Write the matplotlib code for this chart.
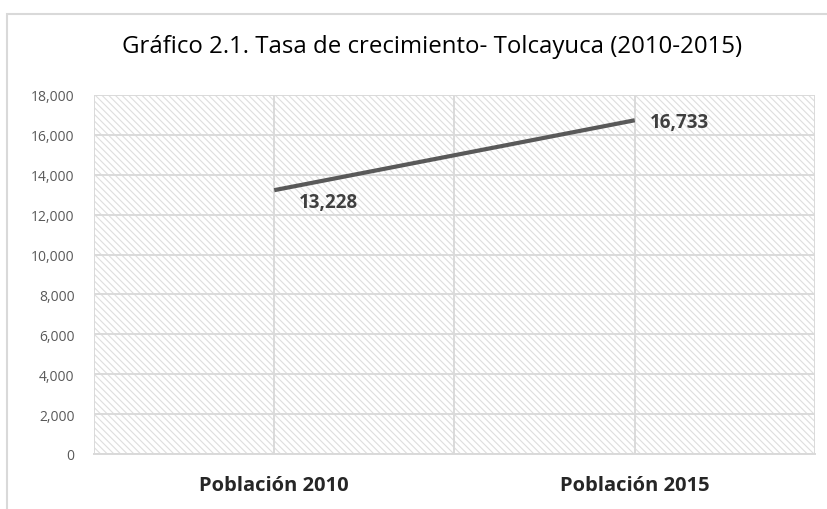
import matplotlib
matplotlib.use("Agg")
import matplotlib.pyplot as plt
from matplotlib.patches import Rectangle
from matplotlib.ticker import FuncFormatter

categories = ["Población 2010", "Población 2015"]
values = [13228, 16733]
yticks = [0, 2000, 4000, 6000, 8000, 10000, 12000, 14000, 16000, 18000]
title = "Gráfico 2.1. Tasa de crecimiento- Tolcayuca (2010-2015)"

fam = ["Open Sans", "DejaVu Sans"]
plt.rcParams['hatch.color'] = '#dedede'
plt.rcParams['hatch.linewidth'] = 0.8

fig = plt.figure(figsize=(8.28, 5.10), dpi=100)
# outer chart frame (cropped)
fig.patches.append(Rectangle((7/828, -0.1), 1.2, 1 - 15/510 + 0.1, transform=fig.transFigure,
                             fill=False, edgecolor='#d9d9d9', linewidth=1.5))

ax = fig.add_axes([94/828, 1 - 455/510, (815 - 94)/828, (455 - 96)/510])
ax.set_xlim(-0.5, 1.5)
ax.set_ylim(0, 18000)

ax.add_patch(Rectangle((0, 0), 1, 1, transform=ax.transAxes, facecolor='white',
                       hatch='\\\\\\\\\\', edgecolor='#dedede', linewidth=0, zorder=0))

for y in yticks:
    ax.axhline(y, color='#dadada', linewidth=1.4, zorder=1)
for x in [-0.5, 0, 0.5, 1, 1.5]:
    ax.axvline(x, color='#dadada', linewidth=1.4, zorder=1)

xs = list(range(len(categories)))
ax.plot(xs, values, color='#595959', linewidth=3.0, solid_capstyle='butt', zorder=3)

ax.annotate(f"{values[0]:,}", (xs[0], values[0]), xytext=(54, -12), textcoords='offset pixels',
            ha='center', va='center', fontsize=13.5, fontweight='bold', color='#404040',
            family=fam)
ax.annotate(f"{values[1]:,}", (xs[1], values[1]), xytext=(45, -2), textcoords='offset pixels',
            ha='center', va='center', fontsize=13.5, fontweight='bold', color='#404040',
            family=fam)

ax.set_yticks(yticks)
ax.yaxis.set_major_formatter(FuncFormatter(lambda v, p: f"{int(v):,}"))
ax.set_xticks(xs)
ax.set_xticklabels(categories, fontsize=14.5, fontweight='bold', color='#262626',
                   family=fam)
ax.tick_params(axis='y', length=0, pad=14, labelsize=10, labelcolor='#595959')
ax.tick_params(axis='x', length=0, pad=15)
for lab in ax.get_yticklabels():
    lab.set_family(fam)

for s in ['top', 'right', 'left']:
    ax.spines[s].set_visible(False)
ax.spines['bottom'].set_color('#d9d9d9')
ax.spines['bottom'].set_linewidth(1.4)

fig.text(432/828, 1 - 47/510, title, ha='center', va='center', fontsize=17.3,
         color='#000000', family=fam)

fig.savefig("out.png", dpi=100)
